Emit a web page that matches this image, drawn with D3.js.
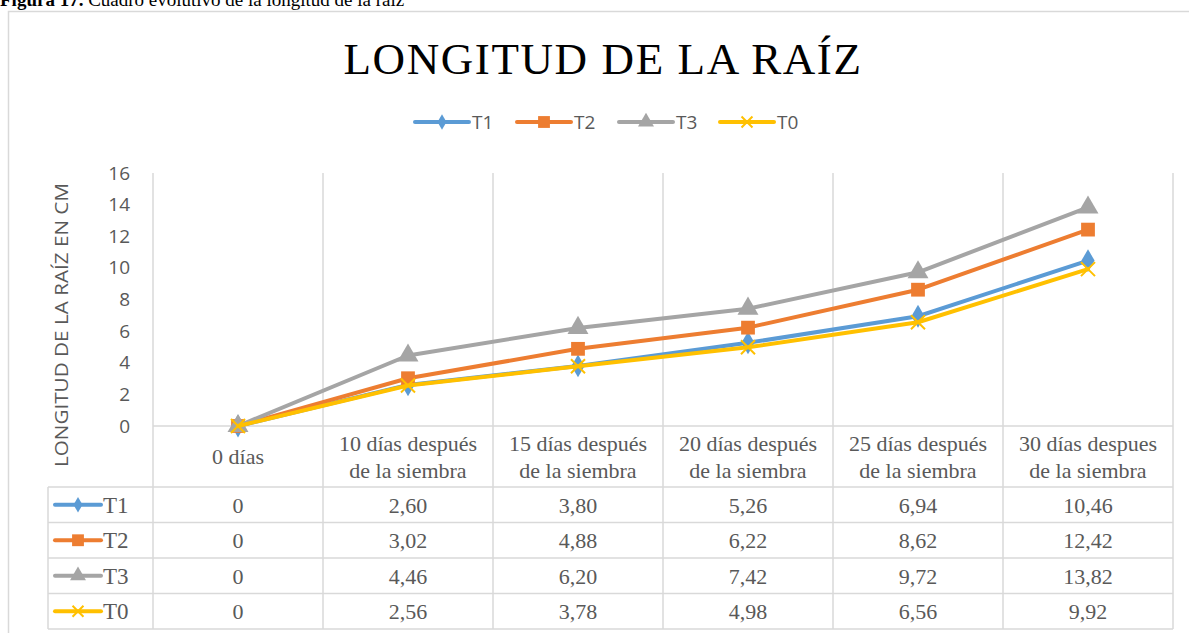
<!DOCTYPE html>
<html><head><meta charset="utf-8">
<script src="https://cdn.jsdelivr.net/npm/d3@7"></script>
<style>html,body{margin:0;padding:0;background:#fff;overflow:hidden}</style>
</head><body>
<svg id="c" width="1189" height="633"></svg>
<script>
const categories = [["0 días"],["10 días después","de la siembra"],["15 días después","de la siembra"],["20 días después","de la siembra"],["25 días después","de la siembra"],["30 días despues","de la siembra"]];
const seriesNames = ["T1","T2","T3","T0"];
const seriesColors = ["#5B9BD5","#ED7D31","#A5A5A5","#FFC000"];
const T1 = [0,2.60,3.80,5.26,6.94,10.46];
const T2 = [0,3.02,4.88,6.22,8.62,12.42];
const T3 = [0,4.46,6.20,7.42,9.72,13.82];
const T0 = [0,2.56,3.78,4.98,6.56,9.92];
const yTicks = [0,2,4,6,8,10,12,14,16];
const seriesValues = [T1,T2,T3,T0];

const svg = d3.select("#c");
const grid = "#D9D9D9";
const L = 153, R = 1173, Y0 = 426, Y16 = 173;
const rowH = 35.5, headBottom = 487, keyLeft = 48;

// caption
const cap = svg.append("text").attr("x",0).attr("y",6).attr("font-family","Liberation Serif").attr("font-size",19).attr("fill","#000");
cap.append("tspan").attr("font-weight","bold").text("Figura 17.");
cap.append("tspan").text(" Cuadro evolutivo de la longitud de la raíz");

// frame
svg.append("rect").attr("x",8.5).attr("y",11.5).attr("width",1200).attr("height",700).attr("fill","none").attr("stroke","#D9D9D9").attr("stroke-width",1.5);

// title
svg.append("text").attr("x",603).attr("y",74).attr("text-anchor","middle").attr("font-family","Liberation Serif").attr("font-size",45).attr("letter-spacing",1.6).attr("fill","#000").text("LONGITUD DE LA RAÍZ");

const x = d3.scaleBand().domain(d3.range(categories.length)).range([L,R]);
const y = d3.scaleLinear().domain([0,16]).range([Y0,Y16]);

// gridlines (vertical category boundaries)
const bounds = d3.range(categories.length+1).map(i => i<categories.length ? x(i) : R);
const rowsBottom = headBottom + rowH*seriesNames.length;
svg.append("g").selectAll("line").data(bounds).join("line")
  .attr("x1",d=>d).attr("x2",d=>d).attr("y1",Y16).attr("y2",rowsBottom)
  .attr("stroke",grid).attr("stroke-width",1.5);
svg.append("line").attr("x1",L).attr("x2",R).attr("y1",Y0).attr("y2",Y0).attr("stroke",grid).attr("stroke-width",1.5);
const rowLines = d3.range(seriesNames.length+1).map(i=>headBottom+rowH*i);
svg.append("g").selectAll("line").data(rowLines).join("line")
  .attr("x1",keyLeft).attr("x2",R).attr("y1",d=>d).attr("y2",d=>d).attr("stroke",grid).attr("stroke-width",1.5);
svg.append("line").attr("x1",keyLeft).attr("x2",keyLeft).attr("y1",headBottom).attr("y2",rowsBottom).attr("stroke",grid).attr("stroke-width",1.5);

// y axis
const yAxis = d3.axisLeft(y).tickValues(yTicks).tickSize(0).tickPadding(23).tickFormat(d3.format("d"));
const ya = svg.append("g").attr("transform",`translate(${L},0)`).call(yAxis);
ya.select(".domain").remove();
ya.selectAll("text").attr("font-family","Open Sans").attr("font-size",19).attr("fill","#595959");

// y title
svg.append("text").attr("transform","translate(68,325) rotate(-90)").attr("text-anchor","middle")
  .attr("font-family","Open Sans").attr("font-size",19).attr("fill","#595959")
  .attr("textLength",284).attr("lengthAdjust","spacingAndGlyphs").text("LONGITUD DE LA RAÍZ EN CM");

// category header labels
const hc = svg.append("g").selectAll("text").data(categories).join("text")
  .attr("text-anchor","middle").attr("font-family","Liberation Serif").attr("font-size",22).attr("fill","#595959")
  .attr("x",(d,i)=>x(i)+x.bandwidth()/2);
hc.each(function(d){
  const t = d3.select(this);
  const n = d.length;
  d.forEach((s,k)=>{
    t.append("tspan").attr("x",t.attr("x")).attr("y", 464 + (k-(n-1)/2)*27).text(s);
  });
});

// markers
const symbols = [d3.symbolDiamond, d3.symbolSquare, d3.symbolTriangle, d3.symbolTimes];
function marker(g, i, size){
  const isX = i===3;
  return g.append("path").attr("d", d3.symbol().type(symbols[i]).size(size)())
    .attr("fill", isX ? "none" : seriesColors[i])
    .attr("stroke", isX ? seriesColors[i] : "none")
    .attr("stroke-width", isX ? 2 : 0);
}
const chartSizes = [150,190,190,130];
const line = d3.line().x((d,i)=>x(i)+x.bandwidth()/2).y(d=>y(d));
seriesValues.forEach((vals,si)=>{
  const g = svg.append("g");
  g.append("path").attr("d",line(vals)).attr("fill","none").attr("stroke",seriesColors[si]).attr("stroke-width",4).attr("stroke-linejoin","round").attr("stroke-linecap","round");
  vals.forEach((v,i)=>{
    marker(g,si,chartSizes[si]).attr("transform",`translate(${x(i)+x.bandwidth()/2},${y(v)})`);
  });
});

// legend
const legendX = [415,517,619,720];
const keySizes = [70,140,110,80];
seriesNames.forEach((n,i)=>{
  const g = svg.append("g").attr("transform",`translate(${legendX[i]},122)`);
  g.append("line").attr("x1",0).attr("x2",54).attr("stroke",seriesColors[i]).attr("stroke-width",4).attr("stroke-linecap","round");
  marker(g,i,keySizes[i]).attr("transform","translate(27,0)");
  g.append("text").attr("x",57).attr("y",7).attr("font-family","Open Sans").attr("font-size",19).attr("fill","#595959").text(n);
});

// table rows
const loc = d3.formatLocale({decimal:",",thousands:".",grouping:[3],currency:["",""]});
const f2 = loc.format(".2f");
seriesNames.forEach((n,si)=>{
  const cy = headBottom + rowH*si + rowH/2;
  const g = svg.append("g").attr("transform",`translate(${keyLeft},${cy})`);
  g.append("line").attr("x1",7).attr("x2",53).attr("stroke",seriesColors[si]).attr("stroke-width",4).attr("stroke-linecap","round");
  marker(g,si,keySizes[si]).attr("transform","translate(30,0)");
  g.append("text").attr("x",55).attr("y",8).attr("font-family","Liberation Serif").attr("font-size",23).attr("fill","#595959").text(n);
  svg.append("g").selectAll("text").data(seriesValues[si]).join("text")
    .attr("x",(d,i)=>x(i)+x.bandwidth()/2).attr("y",cy+8).attr("text-anchor","middle")
    .attr("font-family","Liberation Serif").attr("font-size",22).attr("fill","#595959")
    .text(d=> d===0 ? "0" : f2(d));
});
</script>
</body></html>
